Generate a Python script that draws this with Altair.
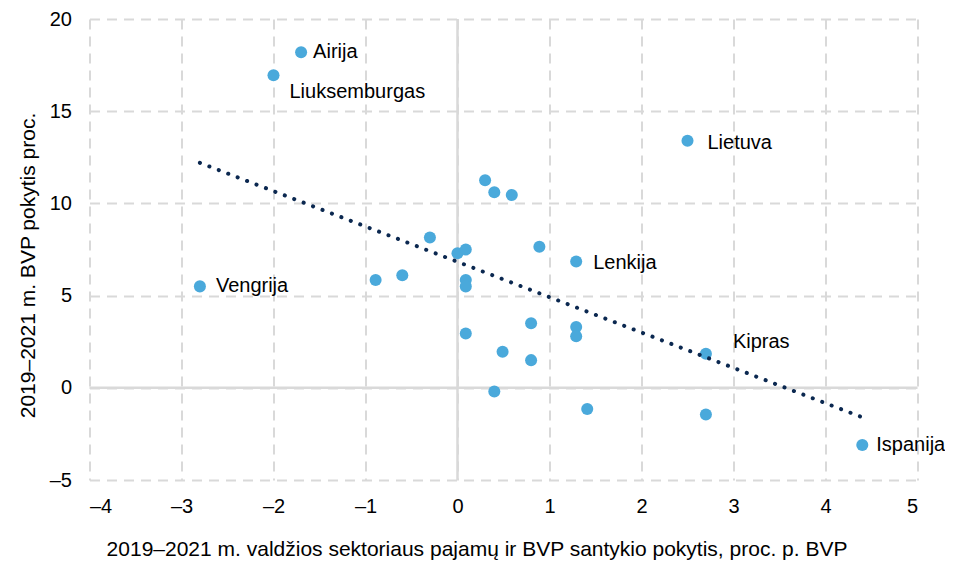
import altair as alt
import pandas as pd

# Data
px = [-1.70, -2.00, 2.50, 0.30, 0.40, 0.59, 0.89, 1.29, -0.30, 0.00, 0.09,
      -0.89, -0.60, -2.80, 0.09, 0.09, 0.09, 0.80, 1.29, 1.29, 0.49, 0.80,
      2.70, 0.40, 1.41, 2.70, 4.40]
py = [18.2, 16.95, 13.4, 11.25, 10.6, 10.45, 7.65, 6.85, 8.15, 7.3, 7.5,
      5.85, 6.1, 5.5, 5.85, 5.5, 2.95, 3.5, 3.3, 2.8, 1.95, 1.5,
      1.85, -0.2, -1.15, -1.45, -3.1]
names = ["Airija", "Liuksemburgas", "Lietuva", "", "", "", "", "Lenkija", "", "", "",
         "", "", "Vengrija", "", "", "", "", "", "", "", "",
         "Kipras", "", "", "", "Ispanija"]

trend_x = [-2.8, 4.4]
trend_y = [12.2, -1.6]

zero_line = [0]

x_ticks = [-4, -3, -2, -1, 0, 1, 2, 3, 4, 5]
y_ticks = [-5, 0, 5, 10, 15, 20]

x_title = "2019–2021 m. valdžios sektoriaus pajamų ir BVP santykio pokytis, proc. p.  BVP"
y_title = "2019–2021 m. BVP pokytis proc."

# label offsets (styling, kept apart from the data)
label_offsets = {
    "Airija": (12, 0),
    "Liuksemburgas": (16, 17),
    "Lietuva": (20, 2),
    "Lenkija": (17, 2),
    "Vengrija": (16, 0),
    "Kipras": (27, -12),
    "Ispanija": (14, 0),
}

df = pd.DataFrame({"x": px, "y": py, "name": names})
tdf = pd.DataFrame({"x": trend_x, "y": trend_y})
zdf = pd.DataFrame({"x": zero_line, "y": zero_line})

FONT = "Liberation Sans"
W, H = 828, 461

xscale = alt.Scale(domain=[-4, 5], nice=False, zero=False)
yscale = alt.Scale(domain=[-5, 20], nice=False, zero=False)

neg_expr = "datum.value < 0 ? '–' + format(abs(datum.value), 'd') : format(datum.value, 'd')"

xaxis = alt.Axis(values=x_ticks, title=x_title, labelExpr=neg_expr,
                 domain=False, ticks=False, labelPadding=16,
                 titleX=387, titleY=75, titleAnchor="middle", titleAlign="center",
                 titleBaseline="alphabetic", titleFontSize=21)
yaxis = alt.Axis(values=y_ticks, title=y_title, labelExpr=neg_expr,
                 domain=False, ticks=False, labelPadding=18,
                 titleX=-61, titleY=246, titleAngle=-90, titleAlign="center",
                 titleBaseline="middle", titleFontSize=21)

X = alt.X("x:Q", scale=xscale, axis=xaxis)
Y = alt.Y("y:Q", scale=yscale, axis=yaxis)

base = alt.Chart(df)

points = base.mark_circle(size=145, color="#4AA9DB", opacity=1).encode(x=X, y=Y)

zero_h = alt.Chart(zdf).mark_rule(color="#d9d9d9", strokeWidth=2.5).encode(y=Y)
zero_v = alt.Chart(zdf).mark_rule(color="#d9d9d9", strokeWidth=2.5).encode(x=X)

trend = alt.Chart(tdf).mark_line(
    color="#0B2850", strokeWidth=4, strokeDash=[0.1, 10], strokeCap="round"
).encode(x=X, y=Y)

labels = []
for nm, (dx, dy) in label_offsets.items():
    labels.append(
        base.transform_filter(alt.datum.name == nm).mark_text(
            align="left", baseline="middle", dx=dx, dy=dy,
            font=FONT, fontSize=20, color="#000000"
        ).encode(x=X, y=Y, text="name:N")
    )

chart = alt.layer(zero_h, zero_v, points, trend, *labels).properties(
    width=W, height=H,
    autosize=alt.AutoSizeParams(type="none"),
    padding={"left": 81.5, "top": 11, "right": 27.5, "bottom": 81},
).configure_view(
    stroke=None
).configure_axis(
    grid=True, gridColor="#d9d9d9", gridDash=[10, 7], gridWidth=2,
    labelFont=FONT, labelFontSize=20, labelColor="#000000",
    titleFont=FONT, titleFontSize=21, titleColor="#000000", titleFontWeight="normal",
)

chart.save("out.html", embed_options={"renderer": "svg", "actions": False})
